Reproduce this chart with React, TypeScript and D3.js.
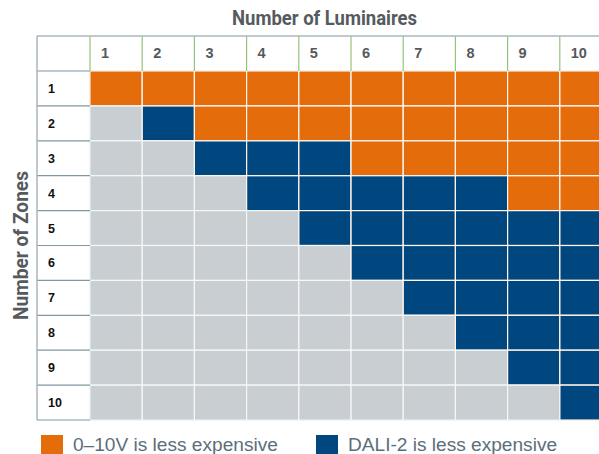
import React from 'react';
import * as d3 from 'd3';

// number of luminaires across the top, number of zones down the side
const luminaires = [1, 2, 3, 4, 5, 6, 7, 8, 9, 10];
const zones = [1, 2, 3, 4, 5, 6, 7, 8, 9, 10];

// cheaper option per zone row (one letter per luminaire column)
// V = 0-10V less expensive, D = DALI-2 less expensive, - = not applicable
const zoneRows = [
  'VVVVVVVVVV',
  '-DVVVVVVVV',
  '--DDDVVVVV',
  '---DDDDDVV',
  '----DDDDDD',
  '-----DDDDD',
  '------DDDD',
  '-------DDD',
  '--------DD',
  '---------D',
];

const legendItems = [
  { key: 'V', label: '0–10V is less expensive' },
  { key: 'D', label: 'DALI-2 is less expensive' },
];

const colors: Record<string, string> = {
  V: '#e46c0a',
  D: '#00467f',
  '-': '#c8ced1',
};

const App = () => {
  const width = 599;
  const height = 454;
  const left = 37;
  const labelCol = 90;
  const right = 612;
  const top = 36;
  const headerBottom = 71;
  const bottom = 420;

  const x = d3.scaleBand<number>().domain(luminaires).range([labelCol, right]);
  const y = d3.scaleBand<number>().domain(zones).range([headerBottom, bottom]);

  const cells = zones.flatMap((z, i) =>
    luminaires.map((l, j) => ({ z, l, v: zoneRows[i][j] }))
  );

  return (
    <svg
      width={width}
      height={height}
      style={{ position: 'absolute', left: 0, top: 0, background: '#fff' }}
      fontFamily="'Liberation Sans', Arial, sans-serif"
    >
      {/* axis titles */}
      <text
        x={324.5}
        y={25}
        textAnchor="middle"
        fontFamily="'Liberation Sans Narrow', 'Roboto', sans-serif"
        fontWeight="bold"
        fontSize={20}
        fill="#555a5e"
        textLength={185}
        lengthAdjust="spacingAndGlyphs"
      >
        Number of Luminaires
      </text>
      <text
        transform={`translate(28,${(headerBottom + bottom) / 2}) rotate(-90)`}
        textAnchor="middle"
        fontFamily="'Liberation Sans Narrow', 'Roboto', sans-serif"
        fontWeight="bold"
        fontSize={20}
        fill="#555a5e"
        textLength={149}
        lengthAdjust="spacingAndGlyphs"
      >
        Number of Zones
      </text>

      {/* cells */}
      {cells.map(c => (
        <rect
          key={`${c.z}-${c.l}`}
          x={x(c.l)}
          y={y(c.z)}
          width={x.bandwidth()}
          height={y.bandwidth()}
          fill={colors[c.v]}
          stroke={c.v === '-' ? '#eceff0' : '#fbe9dc'}
          strokeWidth={1.2}
        />
      ))}
      {luminaires.slice(1).map(l => (
        <line key={`vx${l}`} x1={x(l)} x2={x(l)} y1={headerBottom} y2={bottom} stroke="#fff" strokeOpacity={0.6} strokeWidth={1} />
      ))}
      {zones.slice(1).map(z => (
        <line key={`hy${z}`} x1={labelCol} x2={right} y1={y(z)} y2={y(z)} stroke="#fff" strokeOpacity={0.6} strokeWidth={1} />
      ))}

      {/* header row */}
      {luminaires.map(l => (
        <g key={`h${l}`}>
          <line x1={x(l)} x2={x(l)} y1={top} y2={headerBottom} stroke="#94c47a" strokeWidth={1.2} />
          <text x={(x(l) as number) + 11} y={58} fontWeight="bold" fontSize={14.5} fill="#55595c">
            {l}
          </text>
        </g>
      ))}

      {/* row labels */}
      {zones.map(z => (
        <g key={`r${z}`}>
          <line x1={left} x2={labelCol} y1={(y(z) as number) + y.bandwidth()} y2={(y(z) as number) + y.bandwidth()} stroke="#7f98a2" strokeWidth={1.2} />
          <text x={48} y={(y(z) as number) + y.bandwidth() / 2 + 4.5} fontWeight="bold" fontSize={12.5} fill="#111">
            {z}
          </text>
        </g>
      ))}
      <line x1={left} x2={labelCol} y1={headerBottom} y2={headerBottom} stroke="#7f98a2" strokeWidth={1.2} />
      <line x1={left} x2={left} y1={top} y2={bottom} stroke="#9fb2ba" strokeWidth={1.4} />
      <line x1={left} x2={width} y1={top} y2={top} stroke="#a9b9c0" strokeWidth={1.6} />

      {/* legend */}
      {legendItems.map((item, i) => {
        const lx = i === 0 ? 41 : 316;
        return (
          <g key={item.key} transform={`translate(${lx},435)`}>
            <rect width={22} height={22} fill={colors[item.key]} />
            <text x={32} y={15.5} fontSize={19.1} fill="#5b6e7a">
              {item.label}
            </text>
          </g>
        );
      })}
    </svg>
  );
};

export default App;
